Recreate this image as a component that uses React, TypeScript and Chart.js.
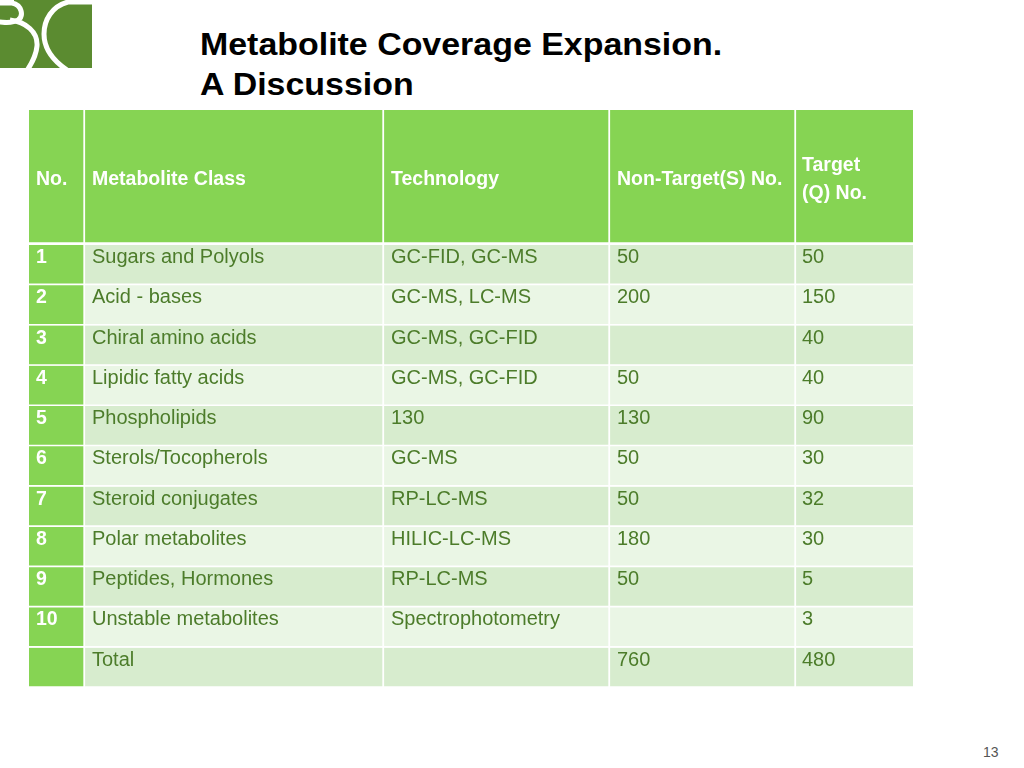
import React, { useEffect, useRef } from "react";
import { Chart, registerables } from "chart.js";

Chart.register(...registerables);

// ---- Data ----
const HEADERS = ["No.", "Metabolite Class", "Technology", "Non-Target(S) No.", "Target\n(Q) No."];
const ROW_NUMBERS = ["1", "2", "3", "4", "5", "6", "7", "8", "9", "10", ""];
const METABOLITE_CLASSES = [
  "Sugars and Polyols",
  "Acid - bases",
  "Chiral amino acids",
  "Lipidic fatty acids",
  "Phospholipids",
  "Sterols/Tocopherols",
  "Steroid conjugates",
  "Polar metabolites",
  "Peptides, Hormones",
  "Unstable metabolites",
  "Total",
];
const TECHNOLOGIES = [
  "GC-FID, GC-MS",
  "GC-MS, LC-MS",
  "GC-MS, GC-FID",
  "GC-MS, GC-FID",
  "130",
  "GC-MS",
  "RP-LC-MS",
  "HILIC-LC-MS",
  "RP-LC-MS",
  "Spectrophotometry",
  "",
];
const NON_TARGET_NO = ["50", "200", "", "50", "130", "50", "50", "180", "50", "", "760"];
const TARGET_NO = ["50", "150", "40", "40", "90", "30", "32", "30", "5", "3", "480"];

// ---- Layout / style (not data) ----
const COL_WIDTHS = [56, 299, 226, 186, 117];
const TABLE_WIDTH = COL_WIDTHS.reduce((a, b) => a + b, 0);
const GREEN = "#86d453";
const ROW_DARK = "#d7ecce";
const ROW_LIGHT = "#eaf6e5";
const TEXT_GREEN = "#4c7c2a";
const FONT = "'Liberation Sans', Arial, Helvetica, sans-serif";

const colStarts = COL_WIDTHS.map((_, i) => COL_WIDTHS.slice(0, i).reduce((a, b) => a + b, 0));

const BODY_COLUMNS = [ROW_NUMBERS, METABOLITE_CLASSES, TECHNOLOGIES, NON_TARGET_NO, TARGET_NO];

function makeTextPlugin(getText: (col: number, row: number) => string, isHeader: boolean) {
  return {
    id: "cellText",
    afterDatasetsDraw(chart: any) {
      const ctx = chart.ctx;
      ctx.save();
      chart.data.datasets.forEach((_: any, col: number) => {
        const meta = chart.getDatasetMeta(col);
        meta.data.forEach((el: any, row: number) => {
          const text = getText(col, row);
          if (!text) return;
          const left = Math.min(el.x, el.base);
          const top = el.y - el.height / 2;
          const white = isHeader || col === 0;
          ctx.fillStyle = white ? "#ffffff" : TEXT_GREEN;
          ctx.font = white ? `bold 19.5px ${FONT}` : `20px ${FONT}`;
          ctx.textBaseline = "alphabetic";
          ctx.textAlign = "left";
          const padX = col === 4 ? 6 : 7;
          if (isHeader) {
            const lines = text.split("\n");
            const lh = 28;
            const cy = top + (el.height - 3) / 2;
            const first = cy - ((lines.length - 1) * lh) / 2 + 9;
            lines.forEach((ln, k) => ctx.fillText(ln, left + padX, first + k * lh));
          } else {
            ctx.fillText(text, left + padX, top + 18);
          }
        });
      });
      ctx.restore();
    },
  };
}

function buildConfig(isHeader: boolean): any {
  const labels = isHeader ? ["header"] : METABOLITE_CLASSES;
  const bottomBorder = isHeader ? 3 : 2;
  const datasets = COL_WIDTHS.map((w, c) => ({
    label: HEADERS[c],
    data: labels.map(() => [colStarts[c], colStarts[c] + w]),
    backgroundColor: (ctx: any) => {
      if (isHeader || c === 0) return GREEN;
      return ctx.dataIndex % 2 === 0 ? ROW_DARK : ROW_LIGHT;
    },
    borderColor: "#ffffff",
    borderWidth: { top: 0, left: 0, right: c === COL_WIDTHS.length - 1 ? 0 : 2, bottom: bottomBorder },
    borderSkipped: false,
    borderRadius: 0,
    barPercentage: 1,
    categoryPercentage: 1,
    grouped: false,
  }));
  return {
    type: "bar",
    data: { labels, datasets },
    options: {
      indexAxis: "y",
      animation: false,
      responsive: false,
      maintainAspectRatio: false,
      layout: { padding: 0 },
      events: [],
      plugins: { legend: { display: false }, tooltip: { enabled: false }, title: { display: false } },
      scales: {
        x: { type: "linear", min: 0, max: TABLE_WIDTH, display: false },
        y: { type: "category", display: false, offset: true },
      },
    },
    plugins: [
      makeTextPlugin(
        (col, row) => (isHeader ? HEADERS[col] : BODY_COLUMNS[col][row]),
        isHeader
      ),
    ],
  };
}

function TableChart({ isHeader, width, height }: { isHeader: boolean; width: number; height: number }) {
  const ref = useRef<HTMLCanvasElement>(null);
  useEffect(() => {
    if (!ref.current) return;
    const chart = new Chart(ref.current, buildConfig(isHeader));
    return () => chart.destroy();
  }, [isHeader]);
  return <canvas ref={ref} width={width} height={height} style={{ display: "block", width, height }} />;
}

function Logo() {
  return (
    <svg width={92} height={68} style={{ position: "absolute", left: 0, top: 0 }}>
      <defs>
        <clipPath id="logoClip">
          <rect x={0} y={0} width={92} height={68} />
        </clipPath>
      </defs>
      <rect x={0} y={0} width={92} height={68} fill="#5b8b30" />
      <g clipPath="url(#logoClip)" fill="none" stroke="#ffffff" strokeWidth={5}>
        <path d="M 96 2 L 68 2 C 52 6 44 20 44 34 C 44 50 54 62 70 72" />
        <path d="M -2 3 L 12 3 C 22 5 24 16 18 20 C 12 24 4 22 -2 22" />
        <path d="M 10 20 C 26 22 38 32 37 46 C 36 58 30 66 26 72" />
      </g>
      <rect x={0} y={0} width={14} height={4} fill="#ffffff" />
    </svg>
  );
}

export default function App() {
  return (
    <div
      style={{
        position: "absolute",
        left: 0,
        top: 0,
        width: 1024,
        height: 768,
        background: "#ffffff",
        overflow: "hidden",
        fontFamily: FONT,
      }}
    >
      <Logo />
      <div
        style={{
          position: "absolute",
          left: 200,
          top: 24,
          fontWeight: "bold",
          fontSize: 32,
          lineHeight: "40px",
          color: "#000000",
          whiteSpace: "nowrap",
          transform: "scaleX(1.06)",
          transformOrigin: "left top",
        }}
      >
        Metabolite Coverage Expansion.
        <br />A Discussion
      </div>
      <div style={{ position: "absolute", left: 29, top: 110 }}>
        <TableChart isHeader={true} width={TABLE_WIDTH} height={135} />
      </div>
      <div style={{ position: "absolute", left: 29, top: 245 }}>
        <TableChart isHeader={false} width={TABLE_WIDTH} height={443} />
      </div>
      <div style={{ position: "absolute", left: 983, top: 744, fontSize: 14, color: "#555555" }}>13</div>
    </div>
  );
}
